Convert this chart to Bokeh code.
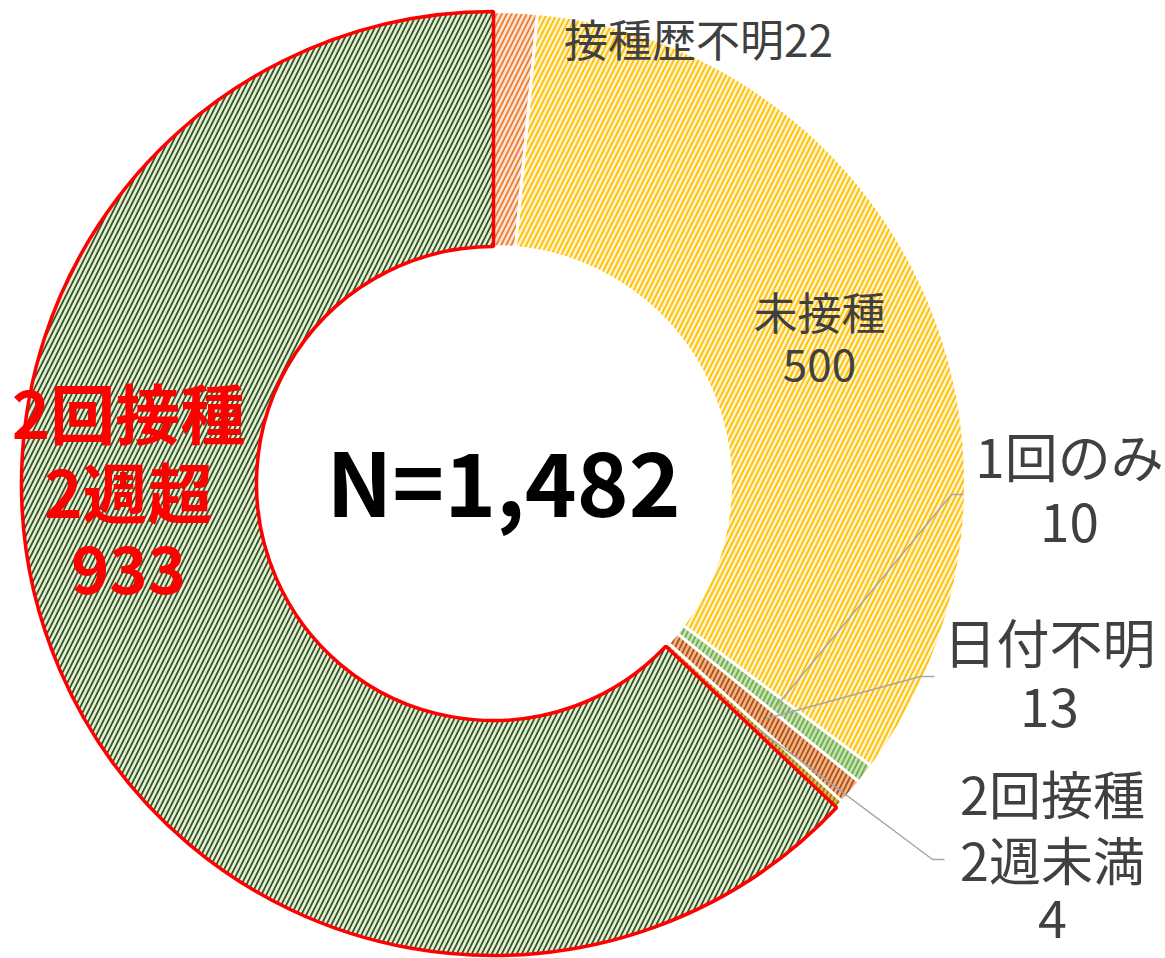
import numpy as np
from bokeh.plotting import figure
from bokeh.models import Range1d
from bokeh.core.properties import value
from bokeh.embed import file_html
from bokeh.resources import INLINE

# ---- data ----
categories = ["接種歴不明", "未接種", "1回のみ", "日付不明", "2回接種2週未満", "2回接種2週超"]
counts = [22, 500, 10, 13, 4, 933]
label_lines = [["接種歴不明22"], ["未接種", "500"], ["1回のみ", "10"], ["日付不明", "13"],
               ["2回接種", "2週未満", "4"], ["2回接種", "2週超", "933"]]
center_label = "N=1,482"

fill_colors = ["#FCE4D6", "#FFF2CC", "#C5E0B4", "#F4B183", "#D6B656", "#E2F0D9"]
hatch_colors = ["#ED7D31", "#FFC000", "#70AD47", "#A9531A", "#9C7A00", "#375623"]

W, H = 1165, 958
p = figure(width=W, height=H, output_backend="svg", toolbar_location=None,
           x_range=Range1d(0, W), y_range=Range1d(-H, 0),
           min_border=0, background_fill_color="white", border_fill_color="white")
p.axis.visible = False
p.grid.visible = False
p.outline_line_color = None

cx, cy = 493, -483
r_out, r_in = 472, 237
total = sum(counts)
cum = np.concatenate([[0], np.cumsum(counts)])
starts = np.pi / 2 - 2 * np.pi * cum[:-1] / total
ends = np.pi / 2 - 2 * np.pi * cum[1:] / total
mids = (starts + ends) / 2

n = len(counts)
for i in range(n):
    main = (i == n - 1)
    p.annular_wedge(x=cx, y=cy, inner_radius=r_in, outer_radius=r_out,
                    start_angle=starts[i], end_angle=ends[i], direction="clock",
                    fill_color=fill_colors[i], hatch_pattern="/", hatch_color=hatch_colors[i],
                    hatch_scale=10, hatch_weight=1.8,
                    line_color="#FF0000" if main else "white", line_width=3.5 if main else 3)

# leader lines for small slices
r_lead = 360
leader_targets = {2: [(951, -494), (963, -494)], 3: [(920, -676), (934, -676)], 4: [(932, -859), (944, -859)]}
for idx, pts in leader_targets.items():
    sx = cx + r_lead * np.cos(mids[idx])
    sy = cy + r_lead * np.sin(mids[idx])
    xs = [sx] + [q[0] for q in pts]
    ys = [sy] + [q[1] for q in pts]
    p.line(xs, ys, line_color="#A6A6A6", line_width=1.5)

# labels
font = value("Noto Sans CJK JP")
dy = 8
label_pos = [(698, [45]), (819, [318, 372]), (1069, [462, 530]), (1049, [648, 715]),
             (1052, [800, 866, 926]), (128, [418, 497, 577])]
label_size = ["44px", "44px", "53px", "53px", "52px", "65px"]
for i, lines in enumerate(label_lines):
    x0, ys = label_pos[i]
    main = (i == n - 1)
    p.text(x=[x0] * len(lines), y=[-(y - dy) for y in ys], text=lines, text_font=font,
           text_font_size=label_size[i], text_align="center", text_baseline="middle",
           text_color="#FF0000" if main else "#404040",
           text_font_style="bold" if main else "normal")

p.text(x=[503], y=[-(486 - dy)], text=[center_label], text_font=font, text_font_size="88px",
       text_font_style="bold", text_color="black", text_align="center", text_baseline="middle")

open("out.html", "w").write(file_html(p, INLINE))
